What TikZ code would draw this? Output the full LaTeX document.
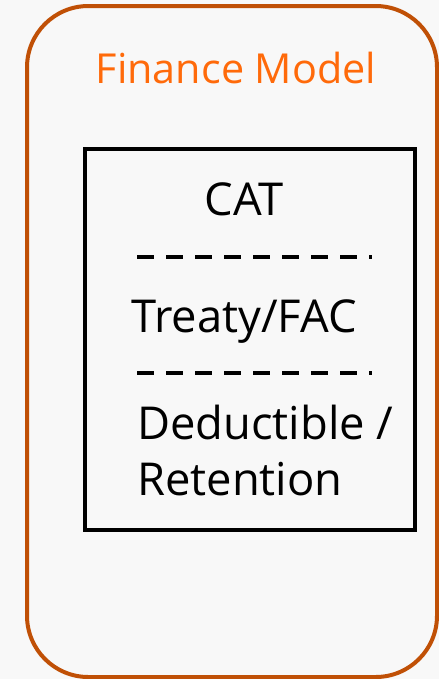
\documentclass[tikz,border=0pt]{standalone}
\usepackage{fontspec}
\setmainfont{Open Sans}
\usetikzlibrary{positioning,calc}
\definecolor{framebrown}{HTML}{C05006}
\definecolor{titleorange}{HTML}{FF6A0A}
\definecolor{lightbg}{HTML}{F8F8F8}
\tikzset{
  modelframe/.style={draw=framebrown, line width=3pt, rounded corners=46pt, fill=lightbg},
  layerbox/.style={draw=black, line width=2.4pt},
  layertext/.style={font=\fontsize{34}{44}\selectfont, text=black, inner sep=0pt, anchor=base},
  layersep/.style={line width=3pt, dash pattern=on 12.75pt off 9pt}
}
\begin{document}
\begin{tikzpicture}[x=0.75pt,y=-0.75pt]
  \useasboundingbox[fill=lightbg] (0,0) rectangle (439,679);
  % outer frame and title
  \draw[modelframe] (27,6) rectangle (437,677);
  \node[font=\fontsize{31}{38}\selectfont, text=titleorange, inner sep=0pt, anchor=base] (title) at (236,83) {Finance Model};
  % inner layer box
  \draw[layerbox] (85,149) rectangle (415,530);
  \node[layertext] (cat) at (244,215) {CAT};
  \coordinate (sepa1) at (137,257); \coordinate (sepa2) at (372,257);
  \draw[layersep] (sepa1) -- (sepa2);
  \node[layertext] (treaty) at (244,332) {Treaty/FAC};
  \coordinate (sepb1) at (137,373); \coordinate (sepb2) at (372,373);
  \draw[layersep] (sepb1) -- (sepb2);
  \node[layertext, anchor=base west] (ded) at (137,439) {Deductible /};
  \node[layertext, anchor=base west] (ret) at (137,495) {Retention};
\end{tikzpicture}
\end{document}
